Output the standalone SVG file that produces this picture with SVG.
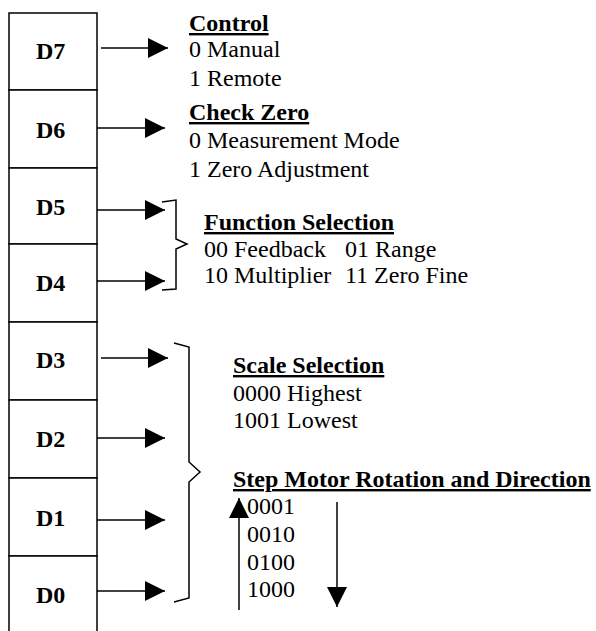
<svg xmlns="http://www.w3.org/2000/svg" width="596" height="631" viewBox="0 0 596 631">
<style>
.cell{fill:#fff;stroke:#000;stroke-width:1.5}
.lbl{font-family:"Liberation Serif","Times New Roman",serif;font-size:24px;font-weight:bold;fill:#000}
.hd{font-family:"Liberation Serif","Times New Roman",serif;font-size:24px;font-weight:bold;fill:#000;text-decoration:underline}
.tx{font-family:"Liberation Serif","Times New Roman",serif;font-size:24px;fill:#000}
.ln{fill:none;stroke:#000;stroke-width:1.5}
.ar{fill:none;stroke:#000;stroke-width:1.5;marker-end:url(#ah)}
</style>
<defs>
<marker id="ah" markerUnits="userSpaceOnUse" viewBox="0 0 20 20" refX="20" refY="10" markerWidth="20" markerHeight="20" orient="auto">
<path d="M0,0 L20,10 L0,20 Z" fill="#000"/>
</marker>
</defs>
<rect width="596" height="631" fill="#fff"/>
<g id="D7"><rect class="cell" x="9" y="13" width="88" height="77"/><text class="lbl" x="36" y="59">D7</text></g>
<g id="D6"><rect class="cell" x="9" y="90" width="88" height="78"/><text class="lbl" x="36" y="138">D6</text></g>
<g id="D5"><rect class="cell" x="9" y="168" width="88" height="76"/><text class="lbl" x="36" y="215">D5</text></g>
<g id="D4"><rect class="cell" x="9" y="244" width="88" height="78"/><text class="lbl" x="36" y="291">D4</text></g>
<g id="D3"><rect class="cell" x="9" y="322" width="88" height="78"/><text class="lbl" x="36" y="368">D3</text></g>
<g id="D2"><rect class="cell" x="9" y="400" width="88" height="78"/><text class="lbl" x="36" y="447">D2</text></g>
<g id="D1"><rect class="cell" x="9" y="478" width="88" height="78"/><text class="lbl" x="36" y="526">D1</text></g>
<g id="D0"><rect class="cell" x="9" y="556" width="88" height="90"/><text class="lbl" x="36" y="603">D0</text></g>
<g id="control"><text class="hd" x="189" y="31">Control</text><text class="tx" x="189" y="57">0 Manual</text><text class="tx" x="189" y="86">1 Remote</text></g>
<g id="checkzero"><text class="hd" x="189" y="120">Check Zero</text><text class="tx" x="189" y="148">0 Measurement Mode</text><text class="tx" x="189" y="177">1 Zero Adjustment</text></g>
<g id="function"><text class="hd" x="204" y="230">Function Selection</text><text class="tx" x="204" y="257">00 Feedback</text><text class="tx" x="345" y="257">01 Range</text><text class="tx" x="204" y="283">10 Multiplier</text><text class="tx" x="345" y="283">11 Zero Fine</text></g>
<g id="scale"><text class="hd" x="233" y="373">Scale Selection</text><text class="tx" x="233" y="401">0000 Highest</text><text class="tx" x="233" y="428">1001 Lowest</text></g>
<g id="stepmotor"><text class="hd" x="233" y="487">Step Motor Rotation and Direction</text><text class="tx" x="247" y="514">0001</text><text class="tx" x="247" y="542">0010</text><text class="tx" x="247" y="570">0100</text><text class="tx" x="247" y="597">1000</text></g>
<g id="connectors">
<path class="ar" d="M101,48 H168"/>
<path class="ar" d="M97,128 H165"/>
<path class="ar" d="M97,210 H165"/>
<path class="ar" d="M97,281 H165"/>
<path class="ar" d="M101,358 H168"/>
<path class="ar" d="M97,438 H165"/>
<path class="ar" d="M97,520 H165"/>
<path class="ar" d="M97,591 H165"/>
<path class="ln" d="M162,202 L176,200 V239 L187,244 L176,249 V289 L162,290"/>
<path class="ln" d="M174,343 L189,347 V462 L200,472 L189,482 V598 L174,602"/>
<path class="ar" d="M239,610 V498"/>
<path class="ar" d="M337,502 V607"/>
</g>
</svg>
